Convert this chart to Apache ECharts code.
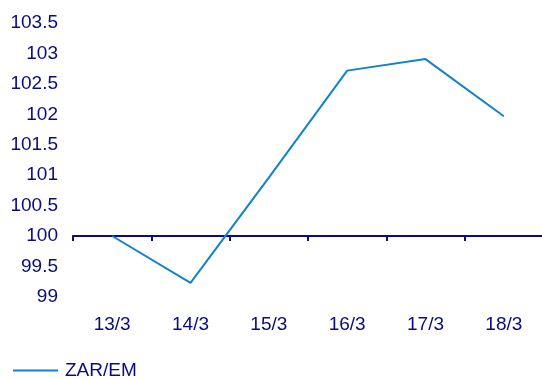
<!DOCTYPE html>
<html>
<head>
<meta charset="utf-8">
<script src="https://cdn.jsdelivr.net/npm/echarts@6/dist/echarts.min.js"></script>
<style>
  html, body { margin: 0; padding: 0; background: #fff; }
  #chart { width: 542px; height: 379px; }
</style>
</head>
<body>
<div id="chart"></div>
<script>
// Daily index readings, base = 100
const categories = ['13/3', '14/3', '15/3', '16/3', '17/3', '18/3'];
const zarEm = [100, 99.23, 100.96, 102.72, 102.91, 101.97];
const seriesName = 'ZAR/EM';

// The category axis sits on the base level, so values are plotted relative to it
const BASE = 100;
const yMin = 99, yMax = 103.5, yStep = 0.5;

const navy = '#0a0a84';
const lineBlue = '#1183c8';
const font = 'Liberation Sans, Arial, sans-serif';

const chart = echarts.init(document.getElementById('chart'));
chart.setOption({
  animation: false,
  grid: {
    left: 73, right: -1, top: 23.2, bottom: 82.2,
    containLabel: false,
    outerBoundsMode: 'none'
  },
  legend: {
    left: 8, bottom: -6,
    itemWidth: 45, itemHeight: 14, itemGap: 10,
    textStyle: { color: navy, fontSize: 19, fontFamily: font, padding: [0, 0, 0, 2] },
    data: [{ name: seriesName, icon: 'path://M0,6 L45,6 L45,8 L0,8 Z' }]
  },
  xAxis: {
    type: 'category',
    data: categories,
    boundaryGap: true,
    axisLine: { onZero: true, lineStyle: { color: navy, width: 2 } },
    axisTick: { show: true, length: 5, lineStyle: { color: navy, width: 2 } },
    axisLabel: { color: navy, fontSize: 19, fontFamily: font, margin: 18 },
    splitLine: { show: false }
  },
  yAxis: {
    type: 'value',
    min: yMin - BASE,
    max: yMax - BASE,
    interval: yStep,
    axisLine: { show: false },
    axisTick: { show: false },
    splitLine: { show: false },
    axisLabel: {
      color: navy, fontSize: 19, fontFamily: font, margin: 15,
      formatter: v => String(+(v + BASE).toFixed(1))
    }
  },
  series: [{
    name: seriesName,
    type: 'line',
    data: zarEm.map(v => v - BASE),
    symbol: 'none',
    lineStyle: { color: lineBlue, width: 2 },
    itemStyle: { color: lineBlue }
  }]
});
</script>
</body>
</html>
